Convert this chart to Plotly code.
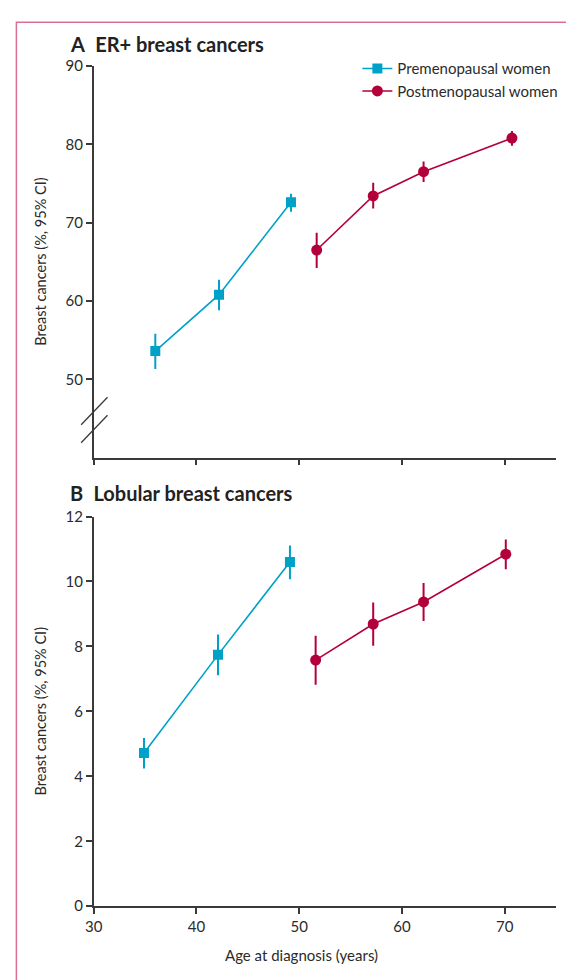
import plotly.graph_objects as go

# ---------------- data ----------------
# Panel A: ER+ breast cancers (%)
a_pre_age = [36.0, 42.2, 49.2]
a_pre_val = [53.6, 60.8, 72.6]
a_pre_hi = [55.8, 62.7, 73.7]
a_pre_lo = [51.3, 58.8, 71.4]

a_post_age = [51.7, 57.2, 62.1, 70.7]
a_post_val = [66.5, 73.4, 76.5, 80.8]
a_post_hi = [68.7, 75.1, 77.8, 81.7]
a_post_lo = [64.2, 71.8, 75.2, 79.8]

# Panel B: Lobular breast cancers (%)
b_pre_age = [34.9, 42.1, 49.1]
b_pre_val = [4.72, 7.74, 10.6]
b_pre_hi = [5.18, 8.37, 11.11]
b_pre_lo = [4.24, 7.11, 10.07]

b_post_age = [51.6, 57.2, 62.1, 70.1]
b_post_val = [7.58, 8.69, 9.37, 10.84]
b_post_hi = [8.33, 9.35, 9.95, 11.29]
b_post_lo = [6.82, 8.02, 8.78, 10.38]

x_ticks = [30, 40, 50, 60, 70]
a_yticks = [50, 60, 70, 80, 90]
b_yticks = [0, 2, 4, 6, 8, 10, 12]

series_names = ["Premenopausal women", "Postmenopausal women"]

# ---------------- styling ----------------
W, H = 566, 980
BLUE = "#00a1c7"
RED = "#b4003a"
AXC = "#3a3a3a"
TXT = "#2b2b2b"
FONT = "Lato"


def px_x(p):
    return p / W


def px_y(p):
    return 1 - p / H


def err(vals, hi, lo):
    return dict(type="data", symmetric=False,
                array=[h - v for h, v in zip(hi, vals)],
                arrayminus=[v - l for v, l in zip(vals, lo)],
                width=0, thickness=2)


fig = go.Figure()

# Panel A traces
fig.add_trace(go.Scatter(x=a_pre_age, y=a_pre_val, mode="lines+markers",
                         name=series_names[0], xaxis="x", yaxis="y",
                         line=dict(color=BLUE, width=1.6),
                         marker=dict(symbol="square", size=10, color=BLUE),
                         error_y=dict(**err(a_pre_val, a_pre_hi, a_pre_lo), color=BLUE)))
fig.add_trace(go.Scatter(x=a_post_age, y=a_post_val, mode="lines+markers",
                         name=series_names[1], xaxis="x", yaxis="y",
                         line=dict(color=RED, width=1.6),
                         marker=dict(symbol="circle", size=11, color=RED),
                         error_y=dict(**err(a_post_val, a_post_hi, a_post_lo), color=RED)))
# Panel B traces
fig.add_trace(go.Scatter(x=b_pre_age, y=b_pre_val, mode="lines+markers",
                         name=series_names[0], xaxis="x2", yaxis="y2", showlegend=False,
                         line=dict(color=BLUE, width=1.6),
                         marker=dict(symbol="square", size=10, color=BLUE),
                         error_y=dict(**err(b_pre_val, b_pre_hi, b_pre_lo), color=BLUE)))
fig.add_trace(go.Scatter(x=b_post_age, y=b_post_val, mode="lines+markers",
                         name=series_names[1], xaxis="x2", yaxis="y2", showlegend=False,
                         line=dict(color=RED, width=1.6),
                         marker=dict(symbol="circle", size=11, color=RED),
                         error_y=dict(**err(b_post_val, b_post_hi, b_post_lo), color=RED)))

axis_common = dict(showline=True, linecolor=AXC, linewidth=1.5, ticks="outside",
                   ticklen=6, tickwidth=1.5, tickcolor=AXC, showgrid=False,
                   zeroline=False, tickfont=dict(family=FONT, size=15, color=TXT))

x_dom = [px_x(86), px_x(556)]

fig.update_layout(
    width=W, height=H,
    margin=dict(l=0, r=0, t=0, b=0),
    paper_bgcolor="white", plot_bgcolor="white",
    font=dict(family=FONT, color=TXT),
    xaxis=dict(domain=x_dom, range=[30, 75], tickvals=x_ticks,
               showticklabels=False, anchor="y", **axis_common),
    yaxis=dict(domain=[px_y(456), px_y(57)], range=[40, 90], tickvals=a_yticks,
               anchor="x", **axis_common),
    xaxis2=dict(domain=x_dom, range=[30, 75], tickvals=x_ticks,
                anchor="y2", **axis_common),
    yaxis2=dict(domain=[px_y(913), px_y(516)], range=[0, 12], tickvals=b_yticks,
                anchor="x2", **axis_common),
    legend=dict(x=px_x(354), y=px_y(43), xanchor="left", yanchor="top",
                bgcolor="rgba(0,0,0,0)", font=dict(family=FONT, size=15, color=TXT),
                itemwidth=30, tracegroupgap=0),
    showlegend=True,
)

# axis break slashes on panel A y axis
for y0, y1 in [(44.2, 47.7), (41.9, 45.4)]:
    fig.add_shape(type="line", xref="x domain", yref="y",
                  x0=-0.027, x1=0.03, y0=y0, y1=y1,
                  line=dict(color=AXC, width=1.3))

# pink frame
fig.add_shape(type="rect", xref="paper", yref="paper",
              x0=px_x(7.5), x1=1.2, y0=-0.2, y1=px_y(12.5),
              line=dict(color="#d9708f", width=1.5), layer="below")

# panel titles
fig.add_annotation(text="<b>A</b>  <b>ER+ breast cancers</b>", xref="paper", yref="paper",
                   x=px_x(60), y=px_y(35), xanchor="left", yanchor="middle",
                   showarrow=False, font=dict(family=FONT, size=20, color="#222"))
fig.add_annotation(text="<b>B</b>  <b>Lobular breast cancers</b>", xref="paper", yref="paper",
                   x=px_x(60), y=px_y(492), xanchor="left", yanchor="middle",
                   showarrow=False, font=dict(family=FONT, size=20, color="#222"))

# y axis titles
for yc in (256, 714):
    fig.add_annotation(text="Breast cancers (%, 95% CI)", xref="paper", yref="paper",
                       x=px_x(32), y=px_y(yc), xanchor="center", yanchor="middle",
                       textangle=-90, showarrow=False,
                       font=dict(family=FONT, size=14.5, color=TXT))

# x axis title
fig.add_annotation(text="Age at diagnosis (years)", xref="paper", yref="paper",
                   x=px_x(297), y=px_y(963), xanchor="center", yanchor="middle",
                   showarrow=False, font=dict(family=FONT, size=15, color=TXT))

fig.write_html("out.html")
